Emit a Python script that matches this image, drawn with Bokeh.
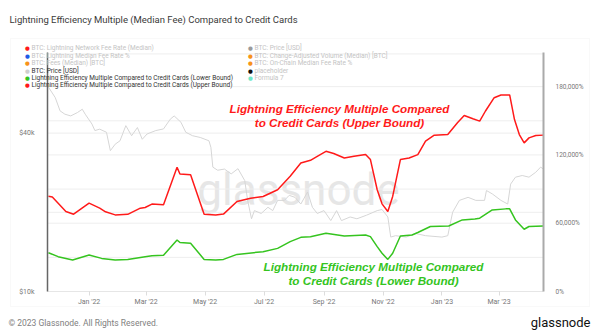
import math
import pandas as pd
from bokeh.plotting import figure
from bokeh.models import (Range1d, LinearAxis, LogAxis, DatetimeAxis, FixedTicker, Label,
                          PolyAnnotation, LinearScale)
from bokeh.embed import file_html
from bokeh.resources import INLINE

# ---------------- data ----------------
price_dates = [
    "2021-11-20", "2021-11-27", "2021-12-02", "2021-12-07", "2021-12-13", "2021-12-20",
    "2021-12-25", "2021-12-28", "2022-01-04", "2022-01-07", "2022-01-12", "2022-01-19",
    "2022-01-23", "2022-01-28", "2022-02-02", "2022-02-08", "2022-02-14", "2022-02-20",
    "2022-02-25", "2022-03-02", "2022-03-11", "2022-03-19", "2022-03-26", "2022-03-30",
    "2022-04-06", "2022-04-11", "2022-04-18", "2022-04-26", "2022-05-05", "2022-05-07",
    "2022-05-09", "2022-05-14", "2022-05-21", "2022-05-28", "2022-06-04", "2022-06-11",
    "2022-06-14", "2022-06-18", "2022-06-21", "2022-06-28", "2022-07-05", "2022-07-10",
    "2022-07-15", "2022-07-22", "2022-07-27", "2022-08-02", "2022-08-08", "2022-08-15",
    "2022-08-20", "2022-08-25", "2022-09-01", "2022-09-08", "2022-09-14", "2022-09-19",
    "2022-09-28", "2022-10-05", "2022-10-15", "2022-10-26", "2022-10-31", "2022-11-06",
    "2022-11-09", "2022-11-14", "2022-11-25", "2022-12-05", "2022-12-15", "2023-01-01",
    "2023-01-07", "2023-01-12", "2023-01-19", "2023-01-28", "2023-02-05", "2023-02-14",
    "2023-02-16", "2023-02-22", "2023-03-03", "2023-03-10", "2023-03-13", "2023-03-18",
    "2023-03-25", "2023-04-01", "2023-04-08", "2023-04-13", "2023-04-16",
]
price_usd = [
    59800, 54600, 48600, 47200, 46500, 47900,
    49300, 47200, 43300, 40900, 41400, 40300,
    34300, 36300, 37400, 42700, 39100, 42000,
    37900, 39700, 40900, 41500, 45200, 46500,
    44000, 40300, 39100, 38500, 37400, 35300,
    29700, 28900, 29200, 28000, 29300, 26400,
    22200, 18900, 20300, 19800, 20900, 20300,
    22200, 22200, 23200, 22800, 21500, 23900,
    20900, 19800, 20300, 18600, 20300, 18600,
    19200, 18900, 19500, 20300, 20500, 19200,
    16100, 16300, 16100, 16600, 16300, 16100,
    16300, 20000, 22200, 22800, 22200, 22200,
    24200, 23500, 22200, 21500, 25600, 27200,
    27600, 27200, 28400, 29700, 29200,
]

upper_dates = [
    "2021-11-20", "2021-11-24", "2021-12-08", "2021-12-16", "2022-01-01", "2022-01-12",
    "2022-01-18", "2022-01-28", "2022-02-10", "2022-02-23", "2022-02-28", "2022-03-07",
    "2022-03-19", "2022-04-02", "2022-04-05", "2022-04-16", "2022-04-30", "2022-05-12",
    "2022-05-20", "2022-06-03", "2022-06-17", "2022-06-30", "2022-07-15", "2022-07-28",
    "2022-08-08", "2022-08-18", "2022-08-25", "2022-09-03", "2022-09-11", "2022-09-22",
    "2022-10-02", "2022-10-14", "2022-10-19", "2022-10-26", "2022-10-31", "2022-11-06",
    "2022-11-11", "2022-11-19", "2022-11-28", "2022-12-07", "2022-12-15", "2022-12-24",
    "2023-01-07", "2023-01-17", "2023-01-24", "2023-02-02", "2023-02-09", "2023-02-15",
    "2023-02-24", "2023-03-03", "2023-03-12", "2023-03-17", "2023-03-22", "2023-03-27",
    "2023-04-01", "2023-04-08", "2023-04-16",
]
upper_pct = [
    83600, 83000, 70300, 67900, 77600, 73200,
    70000, 67300, 67800, 73200, 73800, 76800,
    76200, 109100, 103300, 102600, 67900, 67300,
    68000, 79100, 82000, 83500, 89400, 101200,
    112900, 115300, 118800, 123200, 121200, 117300,
    118800, 120300, 115900, 89400, 77000, 70300,
    83500, 115900, 117300, 120300, 132100, 137400,
    137900, 148200, 154700, 151800, 149700, 158600,
    170300, 172700, 172700, 151100, 137900, 130600,
    135000, 137000, 137400,
]

lower_dates = [
    "2021-11-20", "2021-11-30", "2021-12-15", "2022-01-01", "2022-01-14", "2022-01-28",
    "2022-02-10", "2022-02-28", "2022-03-07", "2022-03-19", "2022-04-02", "2022-04-05",
    "2022-04-16", "2022-04-30", "2022-05-12", "2022-05-20", "2022-06-03", "2022-06-30",
    "2022-07-15", "2022-07-28", "2022-08-08", "2022-08-18", "2022-09-03", "2022-09-22",
    "2022-10-14", "2022-10-19", "2022-10-26", "2022-10-31", "2022-11-06", "2022-11-11",
    "2022-11-19", "2022-12-01", "2022-12-07", "2022-12-20", "2023-01-08", "2023-01-22",
    "2023-02-04", "2023-02-09", "2023-02-22", "2023-03-08", "2023-03-12", "2023-03-18",
    "2023-03-27", "2023-04-01", "2023-04-16",
]
lower_pct = [
    34100, 30600, 27700, 32000, 29100, 27700,
    28200, 30600, 31500, 31800, 45300, 43000,
    42400, 28200, 27700, 28200, 32600, 35000,
    37900, 43800, 47600, 48200, 51200, 48800,
    49700, 48200, 39400, 33600, 28200, 33600,
    48800, 49700, 51800, 57100, 57600, 62900,
    63800, 64400, 71700, 72600, 72600, 62900,
    54700, 57100, 57600,
]

x_tick_dates = ["2022-01-01", "2022-03-01", "2022-05-01", "2022-07-01",
                "2022-09-01", "2022-11-01", "2023-01-01", "2023-03-01"]
x_tick_labels = ["Jan '22", "Mar '22", "May '22", "Jul '22",
                 "Sep '22", "Nov '22", "Jan '23", "Mar '23"]
price_ticks = [10000, 20000, 40000]
price_tick_labels = ["$10k", "", "$40k"]
price_grid = [20000, 40000, 80000]
pct_ticks = [0, 60000, 120000, 180000]
pct_tick_labels = ["0%", "60,000%", "120,000%", "180,000%"]
pct_grid = [30000, 60000, 90000, 120000, 150000, 180000]

legend_col1 = [
    ("BTC: Lightning Network Fee Rate (Median)", "#ff1a1a", False),
    ("BTC: Lightning Median Fee Rate %", "#1f5be6", False),
    ("BTC: Fees (Median) [BTC]", "#f7931a", False),
    ("BTC: Price [USD]", "#cfcfcf", True),
    ("Lightning Efficiency Multiple Compared to Credit Cards (Lower Bound)", "#35c41f", True),
    ("Lightning Efficiency Multiple Compared to Credit Cards (Upper Bound)", "#ff1a1a", True),
]
legend_col2 = [
    ("BTC: Price [USD]", "#9a9a9a", False),
    ("BTC: Change-Adjusted Volume (Median) [BTC]", "#f7931a", False),
    ("BTC: On-Chain Median Fee Rate %", "#f7931a", False),
    ("placeholder", "#111111", False),
    ("Formula 7", "#6ee8c8", False),
]

RED = "#ff1a1a"
GREEN = "#35c41f"
FONT = "Roboto"

# ---------------- geometry of the plot area inside the 600x336 canvas ----------------
W, H = 600, 336
FL, FR, FT, FB = 47, 543, 52, 291          # plot area edges (px)
x_start = pd.Timestamp("2021-11-19")
x_end = pd.Timestamp("2023-04-16")
price_lo, price_hi = 10000, 81000
pct_lo, pct_hi = 0, 210000

dx = (x_end - x_start) / (FR - FL)
xr = Range1d(x_start - dx * FL, x_end + dx * (W - FR))
lpp = (math.log10(price_hi) - math.log10(price_lo)) / (FB - FT)
yr = Range1d(10 ** (math.log10(price_lo) - lpp * (H - FB)),
             10 ** (math.log10(price_hi) + lpp * FT))
ppp = (pct_hi - pct_lo) / (FB - FT)
pr = Range1d(pct_lo - ppp * (H - FB), pct_hi + ppp * FT)

xs_ms = x_start.value / 1e6
xe_ms = x_end.value / 1e6

p = figure(width=W, height=H, y_axis_type="log", x_range=xr, y_range=yr,
           x_axis_location=None, y_axis_location=None,
           output_backend="svg", toolbar_location=None, min_border=0)
p.title.visible = False
p.outline_line_color = None
p.background_fill_color = "white"
p.border_fill_color = "white"
p.xgrid.visible = False
p.ygrid.visible = False
p.extra_y_ranges = {"pct": pr}
p.extra_y_scales = {"pct": LinearScale()}

# panel border
p.add_layout(PolyAnnotation(xs=[10, 589, 589, 10], ys=[38, 38, 306, 306],
                            xs_units="canvas", ys_units="canvas",
                            fill_color=None, line_color="#ebebeb", line_width=1,
                            level="underlay"))

# watermark
p.add_layout(Label(x=298, y=189, x_units="canvas", y_units="canvas", text="glassnode",
                   text_font=FONT, text_font_size="44px", text_color="#e6e6e6",
                   text_align="center", text_baseline="alphabetic", level="underlay"))

# grid lines (limited to the plot area)
p.segment(x0=[x_start] * len(price_grid), x1=[x_end] * len(price_grid),
          y0=price_grid, y1=price_grid, line_color="#eeeeee", line_width=1)
p.segment(x0=[x_start] * len(pct_grid), x1=[x_end] * len(pct_grid),
          y0=pct_grid, y1=pct_grid, line_color="#eeeeee", line_width=1,
          y_range_name="pct")

# bottom (date) axis
x_tick_ms = [pd.Timestamp(d).value / 1e6 for d in x_tick_dates]
xa = DatetimeAxis(fixed_location=price_lo, bounds=(xs_ms, xe_ms),
                  ticker=FixedTicker(ticks=x_tick_ms),
                  major_label_overrides=dict(zip(x_tick_ms, x_tick_labels)))
xa.axis_line_color = "#e6e6e6"
xa.major_tick_line_color = "#dddddd"
xa.major_tick_in = 0
xa.major_tick_out = 4
xa.minor_tick_line_color = None
xa.major_label_text_font = FONT
xa.major_label_text_font_size = "7px"
xa.major_label_text_color = "#777777"
xa.major_label_standoff = 2
p.add_layout(xa, "below")

# left (price) axis
ya = LogAxis(fixed_location=xs_ms, bounds=(price_lo, price_hi),
             ticker=FixedTicker(ticks=price_ticks),
             major_label_overrides=dict(zip(price_ticks, price_tick_labels)))
ya.axis_line_color = "#666666"
ya.axis_line_width = 1.5
ya.major_tick_line_color = None
ya.minor_tick_line_color = None
ya.major_label_text_font = FONT
ya.major_label_text_font_size = "7px"
ya.major_label_text_color = "#777777"
ya.major_label_standoff = 7
p.add_layout(ya, "left")

# right (pct) axis
ra = LinearAxis(y_range_name="pct", fixed_location=xe_ms, bounds=(pct_lo, pct_hi),
                ticker=FixedTicker(ticks=pct_ticks),
                major_label_overrides=dict(zip(pct_ticks, pct_tick_labels)))
ra.axis_line_color = "#aaaaaa"
ra.axis_line_width = 2
ra.major_tick_line_color = None
ra.minor_tick_line_color = None
ra.major_label_text_font = FONT
ra.major_label_text_font_size = "6.5px"
ra.major_label_text_color = "#777777"
ra.major_label_standoff = 6
p.add_layout(ra, "right")

# series
p.line(pd.to_datetime(price_dates), price_usd, line_color="#d6d6d6", line_width=1)
p.line(pd.to_datetime(upper_dates), upper_pct, line_color=RED, line_width=1.5,
       y_range_name="pct")
p.line(pd.to_datetime(lower_dates), lower_pct, line_color=GREEN, line_width=1.5,
       y_range_name="pct")

# annotations
for txt, yy in (("Lightning Efficiency Multiple Compared", 108),
                ("to Credit Cards (Upper Bound)", 122)):
    p.add_layout(Label(x=339, y=yy, x_units="canvas", y_units="canvas", text=txt,
                       text_font="Liberation Sans", text_font_style="bold italic",
                       text_font_size="11.7px", text_color=RED,
                       text_align="center", text_baseline="middle"))
for txt, yy in (("Lightning Efficiency Multiple Compared", 266),
                ("to Credit Cards (Lower Bound)", 280)):
    p.add_layout(Label(x=373, y=yy, x_units="canvas", y_units="canvas", text=txt,
                       text_font="Liberation Sans", text_font_style="bold italic",
                       text_font_size="11.7px", text_color=GREEN,
                       text_align="center", text_baseline="middle"))

# legend
for col_x, entries in ((27, legend_col1), (250, legend_col2)):
    for i, (name, col, active) in enumerate(entries):
        yy = 47.7 + i * 7.45
        p.add_layout(Label(x=col_x, y=yy, x_units="canvas", y_units="canvas", text="●",
                           text_font="DejaVu Sans", text_font_size="5.5px",
                           text_color=col, text_align="center", text_baseline="middle"))
        p.add_layout(Label(x=col_x + 4, y=yy, x_units="canvas", y_units="canvas",
                           text=name, text_font=FONT, text_font_size="6.5px",
                           text_color="#333333" if active else "#c4c4c4",
                           text_align="left", text_baseline="middle"))

# title & footer
p.add_layout(Label(x=9, y=19, x_units="canvas", y_units="canvas",
                   text="Lightning Efficiency Multiple (Median Fee) Compared to Credit Cards",
                   text_font=FONT, text_font_size="9.5px", text_color="#3a3a3a",
                   text_align="left", text_baseline="middle"))
p.add_layout(Label(x=8, y=322, x_units="canvas", y_units="canvas",
                   text="© 2023 Glassnode. All Rights Reserved.",
                   text_font=FONT, text_font_size="8.5px", text_color="#808080",
                   text_align="left", text_baseline="middle"))
p.add_layout(Label(x=590, y=322, x_units="canvas", y_units="canvas",
                   text="glassnode", text_font=FONT, text_font_size="13px",
                   text_color="#111111", text_align="right", text_baseline="middle"))

open("out.html", "w").write(file_html(p, INLINE))
